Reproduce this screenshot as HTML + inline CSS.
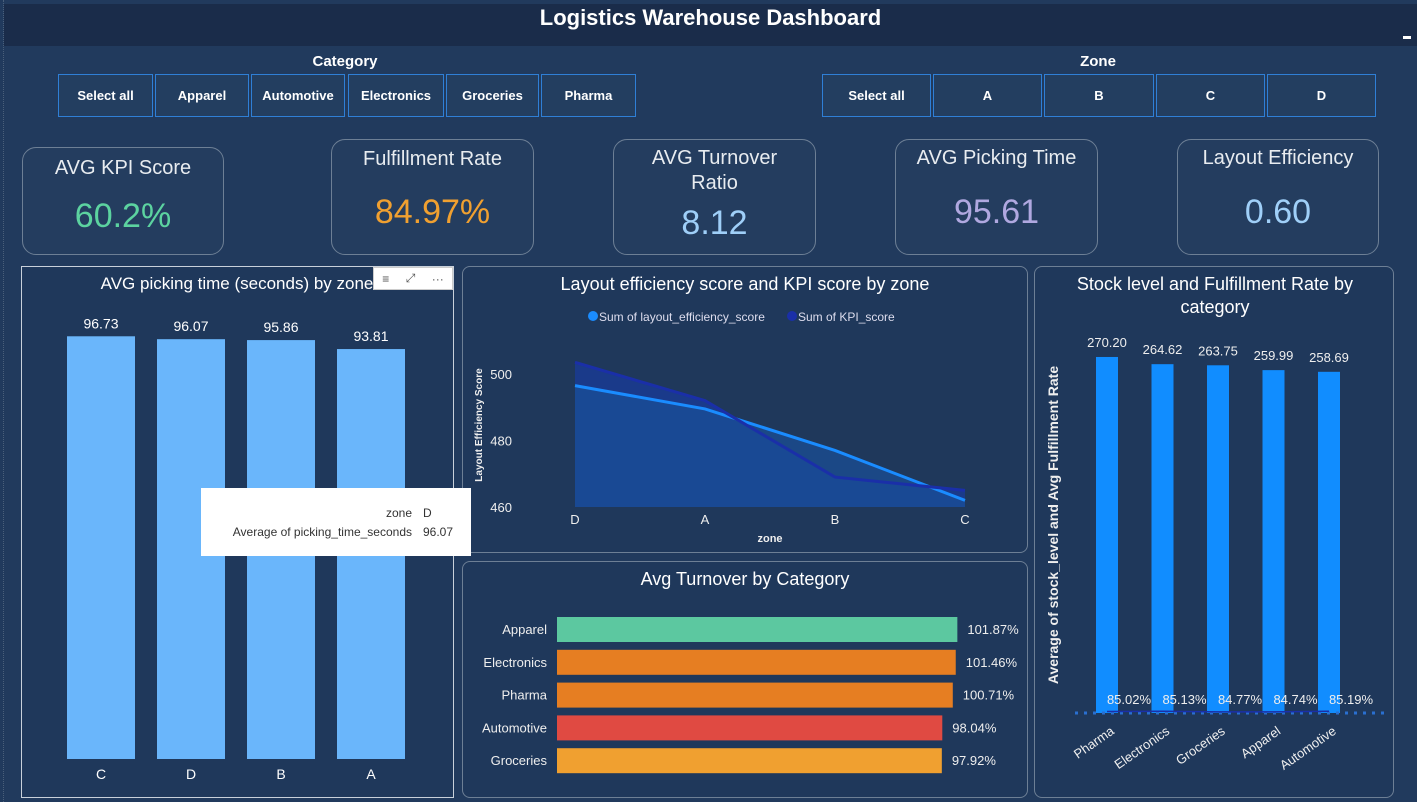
<!DOCTYPE html>
<html><head><meta charset="utf-8">
<style>
*{box-sizing:border-box;margin:0;padding:0}
body{width:1417px;height:802px;background:#213a5d;font-family:"Liberation Sans","DejaVu Sans",sans-serif;color:#fff;position:relative;overflow:hidden}
.abs{position:absolute}
.header{left:4px;top:4px;width:1413px;height:42px;background:#1a2c4a;text-align:center;font-weight:bold;font-size:22px;line-height:28px}
.slbl{font-weight:bold;font-size:15px;text-align:center}
.btn{position:absolute;height:43px;border:1px solid #2f7fd6;background:#233e60;font-size:13px;font-weight:bold;display:flex;align-items:center;justify-content:center}
.card{position:absolute;border:1px solid #6d7f95;border-radius:14px;background:#243d5f;text-align:center}
.card .t{font-size:20px;color:#e8ecf0;line-height:25px}
.card .v{font-size:34px}
.panel{position:absolute;border:1px solid #6d7f95;border-radius:8px;background:#1f385b}
</style></head><body>
<div class="abs" style="left:3px;top:0;width:1px;height:802px;border-left:1px dotted #4a5f7a"></div>
<div class="abs header">Logistics Warehouse Dashboard</div>
<div class="abs" style="left:1403px;top:36px;width:8px;height:3px;background:#fff"></div>

<div class="abs slbl" style="left:250px;top:53px;width:190px">Category</div>
<div class="btn" style="left:58px;top:74px;width:95px">Select all</div>
<div class="btn" style="left:155px;top:74px;width:94px">Apparel</div>
<div class="btn" style="left:251px;top:74px;width:94px">Automotive</div>
<div class="btn" style="left:348px;top:74px;width:96px">Electronics</div>
<div class="btn" style="left:446px;top:74px;width:93px">Groceries</div>
<div class="btn" style="left:541px;top:74px;width:95px">Pharma</div>

<div class="abs slbl" style="left:1000px;top:53px;width:196px">Zone</div>
<div class="btn" style="left:822px;top:74px;width:109px">Select all</div>
<div class="btn" style="left:933px;top:74px;width:109px">A</div>
<div class="btn" style="left:1044px;top:74px;width:110px">B</div>
<div class="btn" style="left:1156px;top:74px;width:109px">C</div>
<div class="btn" style="left:1267px;top:74px;width:109px">D</div>

<div class="card" style="left:22px;top:147px;width:202px;height:108px"><div class="t" style="margin-top:8px">AVG KPI Score</div><div class="v" style="color:#5cd3a0;margin-top:16px">60.2%</div></div>
<div class="card" style="left:331px;top:139px;width:203px;height:116px"><div class="t" style="margin-top:7px">Fulfillment Rate</div><div class="v" style="color:#f0a030;margin-top:21px">84.97%</div></div>
<div class="card" style="left:613px;top:139px;width:203px;height:116px"><div class="t" style="margin-top:6px">AVG Turnover<br>Ratio</div><div class="v" style="color:#9fcff8;margin-top:8px">8.12</div></div>
<div class="card" style="left:895px;top:139px;width:203px;height:116px"><div class="t" style="margin-top:6px">AVG Picking Time</div><div class="v" style="color:#b0a8e0;margin-top:22px">95.61</div></div>
<div class="card" style="left:1177px;top:139px;width:202px;height:116px"><div class="t" style="margin-top:6px">Layout Efficiency</div><div class="v" style="color:#9fcff8;margin-top:22px">0.60</div></div>

<div class="panel" style="left:21px;top:266px;width:433px;height:532px;border-radius:0;border-color:#c8d0da"></div>
<div class="panel" style="left:462px;top:266px;width:566px;height:287px"></div>
<div class="panel" style="left:462px;top:561px;width:566px;height:237px"></div>
<div class="panel" style="left:1034px;top:266px;width:360px;height:532px"></div>

<svg class="abs" style="left:0;top:0" width="1417" height="802">
<g id="g1"></g><g id="g2"></g><g id="g3"></g><g id="g4"></g>
</svg>

<div class="abs" style="left:201px;top:488px;width:270px;height:68px;background:#fff;color:#333;font-size:12px">
<div class="abs" style="left:0;top:18px;width:211px;text-align:right">zone</div><div class="abs" style="left:222px;top:18px">D</div>
<div class="abs" style="left:0;top:37px;width:211px;text-align:right">Average of picking_time_seconds</div><div class="abs" style="left:222px;top:37px">96.07</div>
</div>
<div class="abs" style="left:373px;top:267px;width:80px;height:23px;background:#fff;border:1px solid #ccc;color:#555;font-size:12px;display:flex;justify-content:space-around;align-items:center"><span>≡</span><span>⤢</span><span>···</span></div>

<script>
const NS="http://www.w3.org/2000/svg";
function mk(p,tag,a,txt){const e=document.createElementNS(NS,tag);for(const k in a)e.setAttribute(k,a[k]);if(txt!=null)e.textContent=txt;p.appendChild(e);return e;}

// Chart 1: picking time by zone
const pickZones=["C","D","B","A"];
const pickValues=[96.73,96.07,95.86,93.81];
// Chart 2: layout efficiency & KPI by zone
const lineZones=["D","A","B","C"];
const layoutValues=[496.5,489.5,477,462];
const kpiValues=[503.5,492,469,465];
const lineTicks=[460,480,500];
// Chart 3: turnover by category
const turnCats=["Apparel","Electronics","Pharma","Automotive","Groceries"];
const turnValues=[101.87,101.46,100.71,98.04,97.92];
const turnColors=["#5cc8a0","#e67e22","#e67e22","#e04a42","#f0a030"];
// Chart 4: stock & fulfillment
const stockCats=["Pharma","Electronics","Groceries","Apparel","Automotive"];
const stockValues=[270.20,264.62,263.75,259.99,258.69];
const fulfillValues=[85.02,85.13,84.77,84.74,85.19];

// ---- chart 1
(function(){
 const g=document.getElementById("g1");
 const base=759,k=4.37,x0=67,step=90,w=68;
 mk(g,"text",{x:237,y:289,"text-anchor":"middle","font-size":17,fill:"#fff"},"AVG picking time (seconds) by zone");
 pickValues.forEach((v,i)=>{
  const x=x0+i*step,y=base-v*k;
  const r=mk(g,"rect",{x:x,y:y,width:w,height:v*k,fill:"#6ab6fb"});
  
  
  mk(g,"text",{x:x+w/2,y:y-8,"text-anchor":"middle","font-size":14,fill:"#fff"},v.toFixed(2));
  mk(g,"text",{x:x+w/2,y:779,"text-anchor":"middle","font-size":14,fill:"#fff"},pickZones[i]);
 });
})();

// ---- chart 2
(function(){
 const g=document.getElementById("g2");
 const yb=507,ky=133/40,x0=575,step=130;
 const Y=v=>yb-(v-460)*ky, X=i=>x0+i*step;
 mk(g,"text",{x:745,y:290,"text-anchor":"middle","font-size":18,fill:"#fff"},"Layout efficiency score and KPI score by zone");
 mk(g,"circle",{cx:593,cy:316,r:5,fill:"#1a8cff"});
 mk(g,"text",{x:599,y:321,"font-size":12,fill:"#dde"},"Sum of layout_efficiency_score");
 mk(g,"circle",{cx:792,cy:316,r:5,fill:"#1a2fa8"});
 mk(g,"text",{x:798,y:321,"font-size":12,fill:"#dde"},"Sum of KPI_score");
 lineTicks.forEach(t=>mk(g,"text",{x:512,y:Y(t)+5,"text-anchor":"end","font-size":13,fill:"#eee"},t));
 lineZones.forEach((z,i)=>mk(g,"text",{x:X(i),y:524,"text-anchor":"middle","font-size":13,fill:"#eee"},z));
 mk(g,"text",{x:770,y:542,"text-anchor":"middle","font-size":11,"font-weight":"bold",fill:"#eee"},"zone");
 mk(g,"text",{x:0,y:0,transform:"translate(482,425) rotate(-90)","text-anchor":"middle","font-size":10,"font-weight":"bold",fill:"#eee"},"Layout Efficiency Score");
 const ptsK=kpiValues.map((v,i)=>X(i)+","+Y(v)).join(" ");
 const ptsL=layoutValues.map((v,i)=>X(i)+","+Y(v)).join(" ");
 mk(g,"polygon",{points:ptsK+" "+X(3)+","+yb+" "+X(0)+","+yb,fill:"#1a3a8a"});
 mk(g,"polygon",{points:ptsL+" "+X(3)+","+yb+" "+X(0)+","+yb,fill:"#1a5099","fill-opacity":0.7});
 const l1=mk(g,"polyline",{points:ptsL,fill:"none",stroke:"#1a8cff","stroke-width":3});
 
 const l2=mk(g,"polyline",{points:ptsK,fill:"none",stroke:"#1a2fa8","stroke-width":3});
 
})();

// ---- chart 3
(function(){
 const g=document.getElementById("g3");
 const x0=557,k=3.93,y0=617,step=32.8,h=25;
 mk(g,"text",{x:745,y:585,"text-anchor":"middle","font-size":18,fill:"#fff"},"Avg Turnover by Category");
 turnValues.forEach((v,i)=>{
  const y=y0+i*step;
  const r=mk(g,"rect",{x:x0,y:y,width:v*k,height:h,fill:turnColors[i]});
  
  
  mk(g,"text",{x:547,y:y+17,"text-anchor":"end","font-size":13,fill:"#eee"},turnCats[i]);
  mk(g,"text",{x:x0+v*k+10,y:y+17,"font-size":13,fill:"#eee"},v.toFixed(2)+"%");
 });
})();

// ---- chart 4
(function(){
 const g=document.getElementById("g4");
 const base=705,k=1.288,x0=1096,step=55.5,w=22;
 mk(g,"text",{x:1215,y:290,"text-anchor":"middle","font-size":18,fill:"#fff"},"Stock level and Fulfillment Rate by");
 mk(g,"text",{x:1215,y:313,"text-anchor":"middle","font-size":18,fill:"#fff"},"category");
 mk(g,"text",{x:0,y:0,transform:"translate(1058,525) rotate(-90)","text-anchor":"middle","font-size":14,"font-weight":"bold",fill:"#eee"},"Average of stock_level and Avg Fulfillment Rate");
 stockValues.forEach((v,i)=>{
  const x=x0+i*step,y=base-v*k;
  const r=mk(g,"rect",{x:x,y:y,width:w,height:v*k+8,fill:"#118dff"});
  
  
  mk(g,"text",{x:x+w/2,y:y-10,"text-anchor":"middle","font-size":13,fill:"#eee"},v.toFixed(2));
  mk(g,"text",{x:0,y:0,transform:`translate(${x+w/2+8},${base+28}) rotate(-35)`,"text-anchor":"end","font-size":13,fill:"#eee"},stockCats[i]);
 });
 const FY=v=>base+8-(v-84)*1.5;
 const pts=fulfillValues.map((v,i)=>(x0+i*step+w/2)+","+FY(v)).join(" ");
 mk(g,"line",{x1:1075,y1:713,x2:1386,y2:713,stroke:"#2a6fd0","stroke-width":3,"stroke-dasharray":"3,6"});
 const pl=mk(g,"polyline",{points:pts,fill:"none",stroke:"#1a2fa8","stroke-width":1.5});
 
 fulfillValues.forEach((v,i)=>mk(g,"text",{x:x0+i*step+w/2+22,y:704,"text-anchor":"middle","font-size":13,fill:"#eee"},v.toFixed(2)+"%"));
})();
</script>
</body></html>
